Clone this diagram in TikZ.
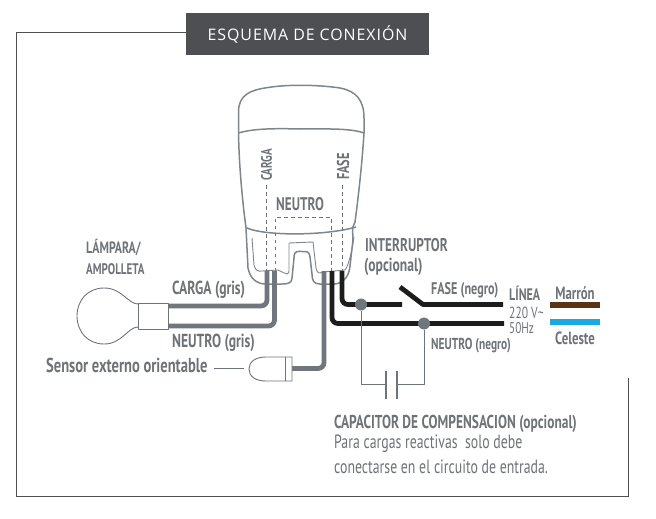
\documentclass[tikz,border=0pt]{standalone}
\usepackage{fontspec}
\setmainfont{Open Sans}
\newfontfamily\cond[FakeStretch=0.72]{PT Sans}
\newfontfamily\head[LetterSpace=6]{Open Sans}
\definecolor{tgray}{HTML}{6E7378}
\definecolor{wgray}{HTML}{6F767C}
\definecolor{bodyg}{HTML}{7F868B}
\definecolor{hdr}{HTML}{4D4F53}
\definecolor{wblack}{HTML}{1D1D1B}
\definecolor{marron}{HTML}{5B3413}
\definecolor{celeste}{HTML}{1BA9E0}
\newcommand{\fs}[1]{\cond\bfseries\fontsize{\fpeval{1.11*#1}}{\fpeval{1.11*#1}}\selectfont}
\newcommand{\fr}[1]{\cond\fontsize{\fpeval{1.11*#1}}{\fpeval{1.11*#1}}\selectfont}
\tikzset{
 lbl/.style={inner sep=0pt,text=tgray,anchor=west,align=left},
 outline/.style={draw=bodyg,line width=1.5pt,line join=round},
 thin outline/.style={draw=bodyg,line width=0.9pt,line join=round},
 dashline/.style={draw=tgray,line width=0.9pt,dash pattern=on 3.5pt off 3.5pt},
 graywire/.style={draw=wgray,line width=4.8pt,rounded corners=6pt},
 blackwire/.style={draw=wblack,line width=4.8pt,rounded corners=6pt},
 capline/.style={draw=tgray,line width=0.9pt},
 dot/.style={circle,fill=wgray,inner sep=0pt,minimum size=12pt},
 partline/.style={draw=tgray,line width=0.9pt,line join=round,fill=white},
}
\begin{document}
\begin{tikzpicture}[x=1pt,y=-1pt]
\useasboundingbox (0,0) rectangle (656,519);
% frame
\coordinate (fa) at (186,33);
\coordinate (fb) at (628,378);
\draw[draw=hdr,line width=1pt] (fa) -- (16,33) -- (16,496) -- (628,496) -- (fb);
\node[fill=hdr,minimum width=243pt,minimum height=42pt,inner sep=0pt,text=white,font=\head\fontsize{15.9}{17}\selectfont] (hd) at (307.5,34) {ESQUEMA DE CONEXIÓN};
% sensor body device
\draw[outline] (238.5,133) -- (238.5,112) .. controls (238.5,95) and (250,90) .. (268,87.5) .. controls (290,84) and (320,85) .. (340,88) .. controls (356,91) and (364,100) .. (364,118) -- (364,133) .. controls (362,165) and (358,200) .. (355,222) -- (352.5,228) -- (353,240) -- (350,266) .. controls (349,276) and (344,283) .. (335,284) -- (320,284) .. controls (314,284) and (312,281) .. (312,274) -- (310,257) .. controls (309,250) and (305,251.5) .. (302,251.5) .. controls (298,251.5) and (294,250) .. (294,258) -- (292,278) .. controls (292,283) and (288,284) .. (282,284) -- (266,284) .. controls (256,284) and (250,278) .. (248,268) -- (246,228) -- (244,212) .. controls (241,185) and (239,160) .. (238.5,133) -- cycle;
\draw[outline] (238.5,133) .. controls (255,128) and (280,128.5) .. (300,129) .. controls (325,129) and (350,128) .. (364,133);
\draw[outline] (247,228) .. controls (265,236) and (325,236) .. (356,227);
\draw[thin outline] (252,238) -- (254,265) .. controls (255,270) and (258,272) .. (262,271) -- (278,270) .. controls (283,272) and (285,274) .. (287,274) .. controls (289,274) and (289,272) .. (289,268) -- (289,243) -- (313,242) -- (316,268) .. controls (317,273) and (319,274) .. (323,272) -- (345,270) .. controls (349,265) and (352,250) .. (354,237);
% dashes
\coordinate (dc1) at (266,185);\coordinate (dc2) at (266,271);
\coordinate (dn1) at (275,271);\coordinate (dn2) at (331,271);
\coordinate (df1) at (342,185);\coordinate (df2) at (342,271);
\draw[dashline] (dc1) -- (dc2);
\draw[dashline] (dn1) -- (275,217) -- (331,217) -- (dn2);
\draw[dashline] (df1) -- (df2);
% lamp
\node[partline,minimum width=30pt,minimum height=26pt,inner sep=0pt] (sock) at (153,316) {};
\draw[partline,fill=none] (138,327) .. controls (128,327) and (122,344) .. (104,344) .. controls (88,344) and (77,332) .. (77,316) .. controls (77,300) and (88,288) .. (104,288) .. controls (122,288) and (128,304) .. (138,304);
% wires
\coordinate (w1) at (267,271); \coordinate (w2) at (274.5,271); \coordinate (w3) at (324,271);
\coordinate (w4) at (332,271); \coordinate (w5) at (342,271);
\coordinate (sw1) at (400,287); \coordinate (sw2) at (423,304.5); \coordinate (gap) at (402,304.5);
\coordinate (lf) at (503,304.5); \coordinate (ln) at (504,323.5);
\draw[graywire] (w1) -- (267,306) -- (168,306);
\draw[graywire] (w2) -- (274.5,326) -- (168,326);
% sensor
\coordinate (sens) at (292,368.5);
\draw[graywire] (w3) -- (324,368.5) -- (sens);
\draw[partline] (292,357) -- (266,357) .. controls (255,357) and (249,362) .. (249,369) .. controls (249,376) and (255,381) .. (266,381) -- (292,381) -- cycle;
\draw[partline] (285,357) -- (285,381);
\coordinate (sl1) at (214,368.5); \coordinate (sl2) at (244,368.5);
\draw[draw=tgray,line width=0.9pt] (sl1) -- (sl2);
% black wires
\draw[blackwire] (w4) -- (332,323.5) -- (ln);
\draw[blackwire] (w5) -- (342,304.5) -- (gap);
\draw[draw=wblack,line width=4.8pt,line join=round] (sw1) -- (sw2) -- (lf);
% capacitor
\node[dot] (j1) at (361,304.5) {};
\node[dot] (j2) at (424,323.5) {};
\coordinate (c1) at (386,384.5); \coordinate (c2) at (397,384.5);
\draw[capline] (j1) -- (361,384.5) -- (c1);
\draw[capline] (j2) -- (424,384.5) -- (c2);
\draw[draw=tgray,line width=2pt] (386,371) -- (386,399);
\draw[draw=tgray,line width=2pt] (397,371) -- (397,399);
% line colours
\coordinate (m1) at (550,304.5); \coordinate (m2) at (600,304.5);
\coordinate (k1) at (550,322); \coordinate (k2) at (600,322);
\draw[draw=marron,line width=6pt] (m1) -- (m2);
\draw[draw=celeste,line width=6pt] (k1) -- (k2);
% labels
\node[lbl,rotate=90,font=\fs{13.7},anchor=center] (t1) at (266.5,165) {CARGA};
\node[lbl,rotate=90,font=\fs{15.5},anchor=center] (t2) at (343,166.5) {FASE};
\node[lbl,font=\fs{16.5}] (t3) at (276,204) {NEUTRO};
\node[lbl,font=\fs{16.6}] (t4) at (365,245) {INTERRUPTOR};
\node[lbl,font=\fs{17}] (t5) at (364,267) {(opcional)};
\node[lbl,font=\fs{14.8}] (t6) at (86,248) {LÁMPARA/};
\node[lbl,font=\fs{13.8}] (t7) at (86,269) {AMPOLLETA};
\node[lbl,font=\fs{17}] (t8) at (172,290) {CARGA (gris)};
\node[lbl,font=\fs{17}] (t9) at (172,343) {NEUTRO (gris)};
\node[lbl,font=\fs{18.2}] (t10) at (46,365) {Sensor externo orientable};
\node[lbl,font=\fs{15.2}] (t11) at (431,290) {FASE (negro)};
\node[lbl,font=\fs{14.3}] (t12) at (431,346) {NEUTRO (negro)};
\node[lbl,font=\fs{15},anchor=base west] (t13) at (509,300.5) {LÍNEA};
\node[lbl,font=\fr{14.5},anchor=base west] (t14) at (509,318) {220 V\textasciitilde};
\node[lbl,font=\fr{14},anchor=base west] (t15) at (509,333) {50Hz};
\node[lbl,font=\fs{16},anchor=center] (t16) at (575,293) {Marrón};
\node[lbl,font=\fs{16},anchor=center] (t17) at (575,338) {Celeste};
\node[lbl,font=\fs{16.8}] (t18) at (334,424) {CAPACITOR DE COMPENSACION (opcional)};
\node[lbl,font=\fr{17.3}] (t19) at (334,444) {Para cargas reactivas\ \ solo debe};
\node[lbl,font=\fr{17.3}] (t20) at (334,467) {conectarse en el circuito de entrada.};
\end{tikzpicture}
\end{document}
